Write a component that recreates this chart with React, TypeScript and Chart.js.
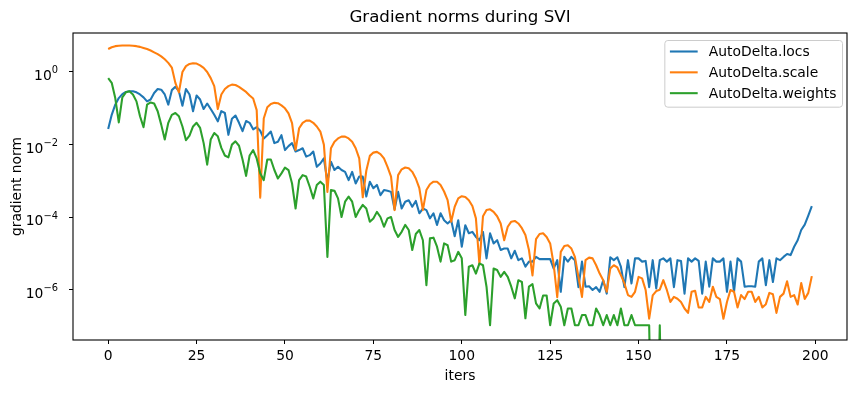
import { useEffect, useRef } from 'react';
import { Chart, registerables } from 'chart.js';

Chart.register(...registerables);

const FONT = 'DejaVu Sans';

const chartTitle = 'Gradient norms during SVI';
const xTitle = 'iters';
const yTitle = 'gradient norm';

const seriesNames = ['AutoDelta.locs', 'AutoDelta.scale', 'AutoDelta.weights'];
const seriesColors = ['#1f77b4', '#ff7f0e', '#2ca02c'];

const xTicks = [0, 25, 50, 75, 100, 125, 150, 175, 200];
const yTicks = [1e-6, 1e-4, 1e-2, 1];
const yTickBase = '10';
const yTickExponents = ['−6', '−4', '−2', '0'];

const iters = Array.from({ length: 200 }, (_, i) => i);

const locs = [
  2.69e-2, 6.61e-2, 1.26e-1, 1.91e-1, 2.45e-1, 2.82e-1, 2.95e-1, 2.95e-1, 2.75e-1, 2.40e-1,
  2.00e-1, 1.55e-1, 1.74e-1, 2.63e-1, 3.39e-1, 3.24e-1, 2.40e-1, 1.26e-1, 3.16e-1, 3.89e-1,
  2.95e-1, 1.17e-1, 3.39e-1, 2.40e-1, 8.32e-2, 2.24e-1, 1.74e-1, 9.55e-2, 1.35e-1, 9.55e-2,
  6.61e-2, 4.37e-2, 8.32e-2, 7.41e-2, 1.86e-2, 5.13e-2, 6.31e-2, 3.98e-2, 2.34e-2, 4.47e-2,
  3.98e-2, 2.63e-2, 3.02e-2, 2.40e-2, 1.48e-2, 1.82e-2, 2.29e-2, 1.10e-2, 1.20e-2, 1.82e-2,
  7.08e-3, 9.12e-3, 1.10e-2, 6.46e-3, 7.08e-3, 7.94e-3, 4.68e-3, 5.13e-3, 6.46e-3, 2.45e-3,
  3.02e-3, 4.17e-3, 9.55e-4, 3.39e-3, 2.00e-3, 2.45e-3, 2.00e-3, 1.78e-3, 1.05e-3, 1.78e-3,
  8.51e-4, 1.32e-3, 1.32e-3, 3.72e-4, 9.55e-4, 6.31e-4, 7.76e-4, 4.07e-4, 5.62e-4, 5.37e-4,
  5.01e-4, 1.66e-4, 5.01e-4, 1.74e-4, 2.69e-4, 2.95e-4, 1.95e-4, 2.82e-4, 1.29e-4, 1.74e-4,
  1.58e-4, 9.33e-5, 1.29e-4, 6.17e-5, 1.29e-4, 8.32e-5, 6.76e-5, 8.32e-5, 3.02e-5, 8.32e-5,
  1.55e-5, 6.03e-5, 3.63e-5, 3.98e-5, 2.88e-5, 2.34e-5, 3.98e-5, 7.41e-6, 3.63e-5, 1.91e-5,
  2.34e-5, 1.26e-5, 1.38e-5, 1.38e-5, 7.41e-6, 1.20e-5, 6.61e-6, 7.41e-6, 4.37e-6, 6.03e-6,
  6.03e-6, 8.13e-6, 7.08e-6, 7.08e-6, 7.08e-6, 7.08e-6, 3.89e-6, 6.61e-6, 8.91e-7, 8.13e-6,
  6.03e-6, 8.13e-6, 6.61e-6, 1.20e-6, 6.03e-6, 1.23e-6, 1.26e-6, 1.00e-6, 1.20e-6, 8.91e-7,
  1.86e-6, 7.94e-7, 7.94e-6, 6.61e-6, 7.94e-6, 4.37e-6, 1.20e-6, 6.61e-6, 1.51e-6, 7.41e-6,
  7.41e-6, 6.03e-6, 6.31e-6, 1.20e-6, 6.61e-6, 1.10e-6, 6.61e-6, 7.41e-6, 6.03e-6, 7.41e-6,
  1.20e-6, 6.61e-6, 6.31e-6, 7.94e-7, 7.41e-6, 6.03e-6, 7.41e-6, 6.31e-6, 7.94e-7, 6.03e-6,
  1.23e-6, 7.41e-6, 6.03e-6, 6.03e-6, 7.41e-6, 8.91e-7, 6.03e-6, 8.91e-7, 7.41e-6, 6.03e-6,
  1.23e-6, 1.26e-6, 1.26e-6, 1.23e-6, 6.03e-6, 7.41e-6, 1.35e-6, 6.61e-6, 1.66e-6, 7.41e-6,
  6.61e-6, 8.13e-6, 9.77e-6, 9.12e-6, 1.55e-5, 2.34e-5, 4.47e-5, 6.31e-5, 1.12e-4, 2.04e-4,
];

const scale = [
  4.27, 4.79, 5.13, 5.25, 5.37, 5.37, 5.37, 5.25, 5.13, 4.90,
  4.57, 4.27, 3.89, 3.47, 3.09, 2.69, 2.24, 1.78, 1.32, 5.01e-1,
  2.75e-1, 1.00, 1.45, 1.66, 1.74, 1.70, 1.51, 1.29, 1.00, 6.76e-1,
  4.07e-1, 9.55e-2, 2.40e-1, 3.39e-1, 4.07e-1, 4.47e-1, 4.37e-1, 3.89e-1, 3.31e-1, 2.82e-1,
  2.24e-1, 1.86e-1, 8.91e-2, 3.47e-4, 5.25e-2, 1.07e-1, 1.32e-1, 1.41e-1, 1.38e-1, 1.20e-1,
  1.00e-1, 7.24e-2, 3.89e-2, 7.08e-3, 2.82e-2, 3.98e-2, 4.57e-2, 4.57e-2, 3.98e-2, 3.16e-2,
  2.29e-2, 1.00e-2, 5.01e-4, 7.94e-3, 1.20e-2, 1.48e-2, 1.66e-2, 1.66e-2, 1.48e-2, 1.20e-2,
  7.94e-3, 4.17e-3, 3.55e-4, 1.91e-3, 4.90e-3, 6.03e-3, 6.31e-3, 5.50e-3, 4.17e-3, 2.45e-3,
  1.32e-3, 1.58e-4, 1.45e-3, 2.09e-3, 2.34e-3, 2.24e-3, 1.78e-3, 1.17e-3, 6.31e-4, 1.58e-4,
  5.62e-4, 8.13e-4, 9.55e-4, 9.55e-4, 7.76e-4, 5.13e-4, 2.95e-4, 7.59e-5, 1.95e-4, 3.31e-4,
  3.80e-4, 3.63e-4, 2.95e-4, 2.04e-4, 9.33e-5, 5.01e-6, 1.07e-4, 1.58e-4, 1.66e-4, 1.41e-4,
  1.07e-4, 6.76e-5, 2.34e-5, 5.50e-5, 7.59e-5, 7.94e-5, 6.76e-5, 5.01e-5, 3.24e-5, 1.26e-5,
  2.51e-6, 2.51e-5, 3.47e-5, 3.63e-5, 2.88e-5, 1.91e-5, 5.01e-6, 6.31e-7, 1.12e-5, 1.62e-5,
  1.70e-5, 1.38e-5, 8.13e-6, 2.29e-6, 6.46e-7, 6.61e-6, 7.76e-6, 7.41e-6, 4.79e-6, 2.82e-6,
  1.86e-6, 8.91e-7, 3.89e-6, 4.79e-6, 4.17e-6, 2.57e-6, 1.51e-6, 7.24e-7, 6.46e-7, 8.91e-7,
  2.29e-6, 2.09e-6, 1.00e-6, 1.62e-7, 7.08e-7, 9.33e-7, 1.02e-6, 1.86e-6, 1.00e-6, 4.68e-7,
  6.46e-7, 5.75e-7, 4.68e-7, 3.09e-7, 2.34e-7, 8.91e-7, 9.55e-7, 3.31e-7, 3.31e-7, 6.46e-7,
  4.68e-7, 1.23e-6, 6.46e-7, 5.62e-7, 1.62e-7, 4.68e-7, 1.00e-6, 8.91e-7, 3.31e-7, 7.24e-7,
  5.62e-7, 8.91e-7, 8.91e-7, 4.68e-7, 6.46e-7, 3.31e-7, 4.07e-7, 8.32e-7, 7.59e-7, 2.34e-7,
  6.46e-7, 7.94e-7, 1.74e-6, 6.46e-7, 7.24e-7, 3.98e-7, 1.55e-6, 5.62e-7, 8.32e-7, 2.40e-6,
];

const weights = [
  6.76e-1, 5.01e-1, 1.91e-1, 4.07e-2, 2.00e-1, 2.75e-1, 2.95e-1, 2.40e-1, 1.55e-1, 6.03e-2,
  3.02e-2, 1.26e-1, 1.45e-1, 1.35e-1, 8.32e-2, 3.55e-2, 1.38e-2, 3.98e-2, 6.61e-2, 7.41e-2,
  6.03e-2, 3.16e-2, 1.32e-2, 1.78e-2, 3.16e-2, 3.98e-2, 2.88e-2, 1.10e-2, 2.82e-3, 1.38e-2,
  2.09e-2, 1.70e-2, 8.13e-3, 5.01e-3, 4.47e-3, 1.00e-2, 1.23e-2, 9.33e-3, 3.89e-3, 1.38e-3,
  5.01e-3, 7.08e-3, 4.17e-3, 1.62e-3, 1.05e-3, 3.89e-3, 3.89e-3, 2.00e-3, 1.17e-3, 1.62e-3,
  2.34e-3, 2.00e-3, 8.51e-4, 1.74e-4, 1.05e-3, 1.45e-3, 1.32e-3, 6.92e-4, 3.31e-4, 7.76e-4,
  9.55e-4, 7.76e-4, 8.13e-6, 5.62e-4, 5.37e-4, 3.31e-4, 1.02e-4, 2.69e-4, 3.72e-4, 2.69e-4,
  1.02e-4, 1.58e-4, 2.19e-4, 1.74e-4, 7.59e-5, 9.33e-5, 1.41e-4, 1.02e-4, 5.50e-5, 9.33e-5,
  1.02e-4, 4.47e-5, 2.88e-5, 3.98e-5, 6.17e-5, 4.47e-5, 1.26e-5, 3.47e-5, 4.47e-5, 2.34e-5,
  1.35e-6, 2.63e-5, 2.75e-5, 1.55e-5, 6.03e-6, 1.91e-5, 1.70e-5, 6.03e-6, 6.61e-6, 1.12e-5,
  7.41e-6, 2.04e-7, 4.37e-6, 4.79e-6, 2.82e-6, 5.37e-6, 4.79e-6, 1.23e-6, 1.07e-7, 3.89e-6,
  3.55e-6, 2.29e-6, 3.16e-6, 2.29e-6, 1.23e-6, 5.89e-7, 1.86e-6, 1.66e-6, 1.66e-7, 1.23e-6,
  1.45e-6, 4.27e-7, 3.09e-7, 7.08e-7, 7.08e-7, 1.07e-7, 4.27e-7, 5.25e-7, 3.47e-7, 1.07e-7,
  3.09e-7, 3.09e-7, 1.07e-7, 1.07e-7, 2.04e-7, 2.04e-7, 1.07e-7, 1.07e-7, 3.09e-7, 2.04e-7,
  1.07e-7, 2.04e-7, 1.07e-7, 2.04e-7, 1.07e-7, 3.09e-7, 1.07e-7, 1.07e-7, 2.04e-7, 1.07e-7,
  1.07e-7, 1.07e-7, 1.07e-7, 1.07e-7, 0, 0, 1.07e-7, 0, 0, 0,
  0, 0, 0, 0, 0, 0, 0, 0, 0, 0,
  0, 0, 0, 0, 0, 0, 0, 0, 0, 0,
  0, 0, 0, 0, 0, 0, 0, 0, 0, 0,
  0, 0, 0, 0, 0, 0, 0, 0, 0, 0,
];

const seriesValues = [locs, scale, weights];

// zero values on a log axis fall far below the axis (clipped), as in matplotlib
const toPoints = (arr: number[]) =>
  iters.map((x, i) => ({ x, y: arr[i] > 0 ? arr[i] : 1e-12 }));

const framePlugin = {
  id: 'mplFrame',
  afterDatasetsDraw(chart: any) {
    const { ctx, chartArea } = chart;
    const { left, top, right, bottom } = chartArea;
    ctx.save();
    ctx.strokeStyle = '#000';
    ctx.lineWidth = 1.1;
    ctx.strokeRect(left, top, right - left, bottom - top);
    ctx.restore();
  },
};

// y tick labels drawn as "10" with a raised, smaller exponent (matplotlib mathtext look)
const yLabelPlugin = {
  id: 'mplYLabels',
  afterDraw(chart: any) {
    const { ctx, chartArea } = chart;
    const yScale = chart.scales.y;
    const baseSize = 13.89;
    const expSize = 9.9;
    ctx.save();
    ctx.fillStyle = '#000';
    ctx.textBaseline = 'alphabetic';
    ctx.textAlign = 'left';
    yTicks.forEach((v, i) => {
      const py = yScale.getPixelForValue(v);
      const rightEdge = chartArea.left - 15;
      ctx.font = `${expSize}px "${FONT}"`;
      const expW = ctx.measureText(yTickExponents[i]).width;
      ctx.font = `${baseSize}px "${FONT}"`;
      const baseW = ctx.measureText(yTickBase).width;
      const x0 = rightEdge - expW - baseW;
      ctx.fillText(yTickBase, x0, py + 8);
      ctx.font = `${expSize}px "${FONT}"`;
      ctx.fillText(yTickExponents[i], x0 + baseW, py + 1.5);
    });
    ctx.restore();
  },
};

const legendPlugin = {
  id: 'mplLegend',
  afterDraw(chart: any) {
    const { ctx, chartArea } = chart;
    const fs = 13.89;
    ctx.save();
    ctx.font = `${fs}px "${FONT}"`;
    const textW = Math.max(...seriesNames.map((n) => ctx.measureText(n).width));
    const pad = 0.4 * fs;
    const handle = 2.0 * fs;
    const gap = 0.8 * fs;
    const spacing = 0.5 * fs;
    const boxW = pad + handle + gap + textW + pad;
    const boxH = 2 * pad + seriesNames.length * fs + (seriesNames.length - 1) * spacing;
    const right = chartArea.right - 5;
    const left = right - boxW;
    const top = chartArea.top + 7;
    ctx.fillStyle = 'rgba(255,255,255,0.8)';
    ctx.strokeStyle = '#cccccc';
    ctx.lineWidth = 1;
    ctx.beginPath();
    ctx.roundRect(left + 0.5, top + 0.5, boxW, boxH, 3);
    ctx.fill();
    ctx.stroke();
    seriesNames.forEach((name, i) => {
      const cy = top + pad + fs / 2 + i * (fs + spacing) - 1;
      ctx.strokeStyle = seriesColors[i];
      ctx.lineWidth = 2.08;
      ctx.beginPath();
      ctx.moveTo(left + pad, cy);
      ctx.lineTo(left + pad + handle, cy);
      ctx.stroke();
      ctx.fillStyle = '#000';
      ctx.textBaseline = 'middle';
      ctx.textAlign = 'left';
      ctx.fillText(name, left + pad + handle + gap, cy + 1);
    });
    ctx.restore();
  },
};

export default function App() {
  const ref = useRef<HTMLCanvasElement>(null);

  useEffect(() => {
    const canvas = ref.current;
    if (!canvas) return;
    const tickFont = { family: FONT, size: 13.89 };
    const orders = [2, 1, 0];
    const chart = new Chart(canvas, {
      type: 'line',
      data: {
        datasets: seriesNames.map((name, i) => ({
          label: name,
          data: toPoints(seriesValues[i]),
          borderColor: seriesColors[i],
          backgroundColor: seriesColors[i],
          borderWidth: 2.08,
          pointRadius: 0,
          pointHoverRadius: 0,
          tension: 0,
          fill: false,
          borderJoinStyle: 'round',
          order: orders[i],
        })),
      },
      options: {
        responsive: false,
        animation: false,
        devicePixelRatio: 1,
        events: [],
        layout: { padding: { left: 0, right: 10, top: 0, bottom: 0 } },
        plugins: {
          legend: { display: false },
          tooltip: { enabled: false },
          title: {
            display: true,
            text: chartTitle,
            fullSize: false,
            color: '#000',
            font: { family: FONT, size: 16.67, weight: 'normal' },
            padding: { top: 8, bottom: 5 },
          },
        },
        scales: {
          x: {
            type: 'linear',
            min: -9.95,
            max: 208.95,
            afterBuildTicks: (s: any) => {
              s.ticks = xTicks.map((v) => ({ value: v }));
            },
            afterFit: (s: any) => {
              s.height = 53;
            },
            ticks: {
              color: '#000',
              font: tickFont,
              padding: 4,
              maxRotation: 0,
              autoSkip: false,
              callback: (v: any) => String(v),
            },
            grid: {
              display: true,
              drawOnChartArea: false,
              drawTicks: true,
              tickLength: 4,
              tickWidth: 1,
              tickColor: '#000',
            },
            border: { display: false },
            title: {
              display: true,
              text: xTitle,
              color: '#000',
              font: tickFont,
              padding: { top: 0, bottom: 8 },
            },
          },
          y: {
            type: 'logarithmic',
            min: 4.2e-8,
            max: 11.8,
            afterBuildTicks: (s: any) => {
              s.ticks = yTicks.map((v) => ({ value: v }));
            },
            afterFit: (s: any) => {
              s.width = 73;
            },
            ticks: {
              color: '#000',
              font: tickFont,
              padding: 11,
              autoSkip: false,
              callback: () => '',
            },
            grid: {
              display: true,
              drawOnChartArea: false,
              drawTicks: true,
              tickLength: 4,
              tickWidth: 1,
              tickColor: '#000',
            },
            border: { display: false },
            title: {
              display: true,
              text: yTitle,
              color: '#000',
              font: tickFont,
              padding: { top: 8.7, bottom: 0 },
            },
          },
        },
      },
      plugins: [framePlugin, yLabelPlugin, legendPlugin],
    } as any);
    return () => chart.destroy();
  }, []);

  return (
    <div style={{ position: 'fixed', left: 0, top: 0, width: 857, height: 393, background: '#fff' }}>
      <canvas ref={ref} width={857} height={393} style={{ display: 'block' }} />
    </div>
  );
}
